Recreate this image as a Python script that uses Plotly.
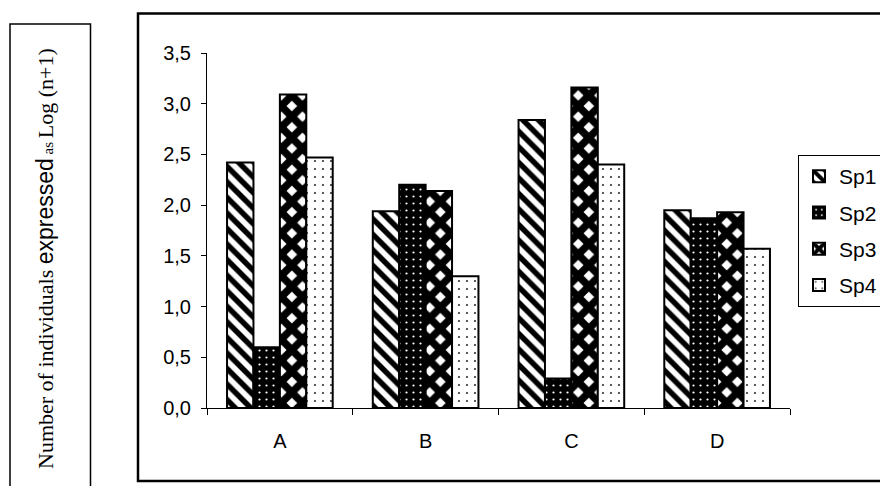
import plotly.graph_objects as go

# Sampling sites and species abundances, Log(n+1)
sites = ["A", "B", "C", "D"]
sp1 = [2.42, 1.94, 2.84, 1.95]
sp2 = [0.60, 2.20, 0.29, 1.87]
sp3 = [3.09, 2.14, 3.16, 1.93]
sp4 = [2.47, 1.30, 2.40, 1.57]
species = ["Sp1", "Sp2", "Sp3", "Sp4"]
y_ticks = [0.0, 0.5, 1.0, 1.5, 2.0, 2.5, 3.0, 3.5]

W, H = 880, 486
PL, PR, PT, PB = 207, 790, 53, 408  # plot area in pixels


def px_x(x):
    return (x - PL) / (PR - PL)


def px_y(y):
    return (PB - y) / (PB - PT)


patterns = [
    dict(shape="\\", fgcolor="black", bgcolor="white", size=11, solidity=0.5),
    dict(shape=".", fgcolor="white", bgcolor="black", size=7, solidity=0.08),
    dict(shape="x", fgcolor="black", bgcolor="white", size=15, solidity=0.75),
    dict(shape=".", fgcolor="#222222", bgcolor="white", size=8, solidity=0.05),
]

fig = go.Figure()
for name, vals, pat in zip(species, [sp1, sp2, sp3, sp4], patterns):
    fig.add_trace(go.Bar(
        x=sites, y=vals, name=name, legendgroup=name,
        marker=dict(color="white", pattern=dict(fillmode="replace", **pat),
                    line=dict(color="black", width=2)),
    ))

SANS = "Liberation Sans, Arial, sans-serif"
SERIF = "Liberation Serif, Times New Roman, serif"

fig.update_layout(
    width=W, height=H,
    margin=dict(l=PL, r=W - PR, t=PT, b=H - PB, autoexpand=False),
    paper_bgcolor="white", plot_bgcolor="white",
    barmode="group", bargap=0.275, bargroupgap=0,
    separators=", ",
    font=dict(family=SANS, size=20, color="black"),
    showlegend=True,
    legend=dict(x=px_x(798), y=px_y(155), xanchor="left", yanchor="top",
                bordercolor="black", borderwidth=1, bgcolor="white",
                font=dict(family=SANS, size=21, color="black"),
                tracegroupgap=6, itemwidth=30),
    xaxis=dict(showline=True, linecolor="black", linewidth=1,
               ticks="outside", tickson="boundaries", ticklen=6,
               tickcolor="black", showgrid=False,
               ticklabelstandoff=15,
               tickfont=dict(family=SANS, size=20)),
    yaxis=dict(range=[0, 3.5], showline=True, linecolor="black", linewidth=1,
               ticks="outside", ticklen=5, tickcolor="black",
               tickvals=y_ticks, tickformat=".1f", showgrid=False,
               zeroline=False, ticklabelstandoff=6,
               tickfont=dict(family=SANS, size=20)),
)

# Chart frame
fig.add_shape(type="rect", xref="paper", yref="paper",
              x0=px_x(138), x1=px_x(905), y0=px_y(481), y1=px_y(13.5),
              line=dict(color="black", width=2.5), layer="below")
# Frame around the axis title
fig.add_shape(type="rect", xref="paper", yref="paper",
              x0=px_x(10), x1=px_x(90.5), y0=px_y(500), y1=px_y(24),
              line=dict(color="black", width=1.5), layer="below")

title = (f'<span style="font-family:{SERIF};font-size:22px">Number of individuals </span>'
         f'<span style="font-family:{SANS};font-size:23px">expressed</span>'
         f'<span style="font-family:{SERIF};font-size:15px"> as </span>'
         f'<span style="font-family:{SERIF};font-size:22px">Log (n+1)</span>')
fig.add_annotation(text=title, xref="paper", yref="paper",
                   x=px_x(45), y=px_y(259), textangle=-90,
                   showarrow=False, xanchor="center", yanchor="middle",
                   font=dict(family=SERIF, size=22, color="black"))

fig.write_html("out.html")
